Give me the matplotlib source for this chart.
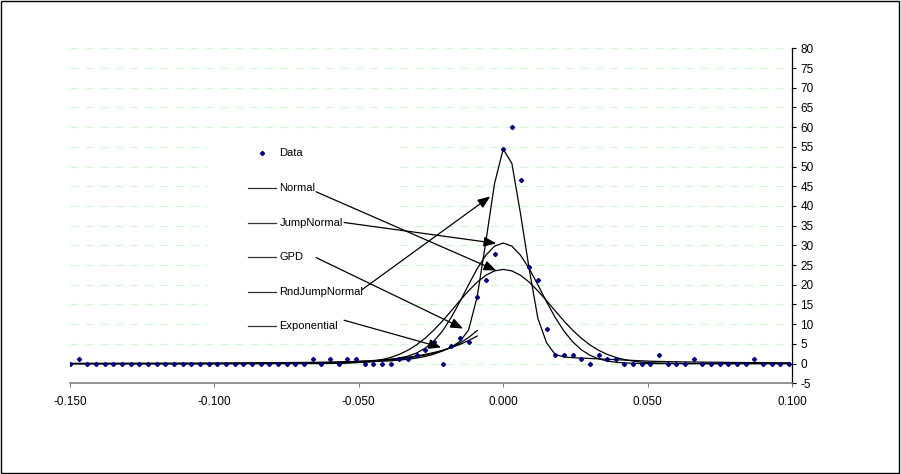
import numpy as np
import matplotlib
matplotlib.use("Agg")
import matplotlib.pyplot as plt
from matplotlib.patches import Rectangle
from matplotlib.lines import Line2D

plt.rcParams["font.family"] = ["Liberation Sans", "DejaVu Sans"]
plt.rcParams["lines.scale_dashes"] = False

# ──────────────────────────────────────────────────────────────────
# data (bin centres every 0.003 from -0.150)
# ──────────────────────────────────────────────────────────────────
bins = np.round(-0.150 + 0.003 * np.arange(84), 3)

data = [
    0, 1.1, 0, 0, 0, 0, 0, 0, 0, 0,
    0, 0, 0, 0, 0, 0, 0, 0, 0, 0,
    0, 0, 0, 0, 0, 0, 0, 0, 1.1, 0,
    1.1, 0, 1.1, 1.1, 0, 0, 0, 0, 1.1, 1.1,
    2.3, 3.4, 5.6, 0, 4.4, 6.6, 5.6, 16.8, 21.2, 27.7,
    54.4, 60.0, 46.7, 24.4, 21.2, 8.9, 2.3, 2.3, 2.3, 1.1,
    0, 2.3, 1.1, 1.1, 0, 0, 0, 0, 2.3, 0,
    0, 0, 1.1, 0, 0, 0, 0, 0, 0, 1.1,
    0, 0, 0, 0,
]

normal = [
    0, 0, 0, 0, 0, 0, 0, 0, 0, 0,
    0, 0, 0, 0, 0, 0, 0, 0, 0, 0,
    0, 0, 0, 0, 0, 0, 0, 0, 0.01, 0.02,
    0.04, 0.07, 0.13, 0.23, 0.38, 0.63, 1.01, 1.56, 2.34, 3.39,
    4.76, 6.47, 8.51, 10.84, 13.37, 15.97, 18.46, 20.67, 22.41, 23.52,
    23.9, 23.52, 22.41, 20.67, 18.46, 15.97, 13.37, 10.84, 8.51, 6.47,
    4.76, 3.39, 2.34, 1.56, 1.01, 0.63, 0.38, 0.23, 0.13, 0.07,
    0.04, 0.02, 0.01, 0, 0, 0, 0, 0, 0, 0,
    0, 0, 0, 0,
]

jump_normal = [
    0, 0, 0, 0, 0, 0, 0, 0, 0, 0,
    0, 0, 0, 0, 0, 0, 0, 0, 0, 0,
    0.01, 0.01, 0.02, 0.02, 0.03, 0.04, 0.05, 0.06, 0.08, 0.10,
    0.13, 0.17, 0.22, 0.3, 0.4, 0.55, 0.75, 1.0, 1.4, 1.9,
    2.7, 3.9, 5.7, 8.3, 11.7, 15.7, 20.0, 24.1, 27.5, 29.8,
    30.6, 29.8, 27.5, 24.1, 20.0, 15.7, 11.7, 8.3, 5.57, 3.54,
    2.13, 1.22, 0.66, 0.34, 0.17, 0.08, 0.03, 0.01, 0, 0,
    0, 0, 0, 0, 0, 0, 0, 0, 0, 0,
    0, 0, 0, 0,
]

rnd_jump_normal = [
    0, 0, 0, 0, 0, 0, 0, 0, 0, 0,
    0.01, 0.01, 0.01, 0.02, 0.02, 0.03, 0.03, 0.04, 0.05, 0.06,
    0.07, 0.08, 0.09, 0.1, 0.11, 0.12, 0.14, 0.16, 0.18, 0.2,
    0.22, 0.25, 0.3, 0.35, 0.4, 0.5, 0.6, 0.7, 0.9, 1.1,
    1.4, 1.8, 2.4, 3.2, 4.2, 5.6, 8.5, 17.0, 31.0, 45.7,
    54.4, 50.8, 38.0, 24.0, 11.5, 5.3, 2.3, 1.7, 1.5, 1.4,
    1.3, 1.2, 1.1, 1.0, 0.9, 0.8, 0.7, 0.6, 0.55, 0.5,
    0.45, 0.42, 0.4, 0.37, 0.35, 0.33, 0.3, 0.28, 0.26, 0.25,
    0.24, 0.22, 0.21, 0.2,
]

# left-tail fits, drawn up to -0.009
gpd = [
    0.05, 0.05, 0.05, 0.06, 0.06, 0.06, 0.07, 0.07, 0.07, 0.08,
    0.08, 0.09, 0.09, 0.1, 0.1, 0.11, 0.12, 0.13, 0.14, 0.15,
    0.16, 0.18, 0.2, 0.22, 0.24, 0.26, 0.28, 0.3, 0.32, 0.34,
    0.35, 0.4, 0.46, 0.53, 0.62, 0.72, 0.85, 1.0, 1.2, 1.45,
    1.75, 2.15, 2.65, 3.3, 4.1, 5.2, 6.6, 8.4,
]

exponential = [
    0, 0, 0, 0, 0, 0, 0, 0, 0, 0,
    0, 0, 0, 0, 0, 0, 0, 0.01, 0.01, 0.02,
    0.03, 0.04, 0.05, 0.07, 0.1, 0.13, 0.15, 0.18, 0.22, 0.26,
    0.31, 0.38, 0.45, 0.54, 0.65, 0.78, 0.94, 1.13, 1.36, 1.63,
    1.95, 2.34, 2.81, 3.38, 4.05, 4.86, 5.83, 7.0,
]

legend_labels = ["Data", "Normal", "JumpNormal", "GPD", "RndJumpNormal", "Exponential"]

# arrows: label -> (text end, arrow tip) in data units
arrows = {
    "Normal":        ((-0.0648, 43.6), (-0.0024, 23.6)),
    "JumpNormal":    ((-0.0551, 35.8), (-0.0024, 30.5)),
    "GPD":           ((-0.0648, 26.9), (-0.0139, 8.9)),
    "RndJumpNormal": ((-0.0488, 18.8), (-0.0045, 42.4)),
    "Exponential":   ((-0.0551, 11.0), (-0.0215, 4.1)),
}

xticks = [-0.150, -0.100, -0.050, 0.000, 0.050, 0.100]
yticks = list(range(-5, 81, 5))

# ──────────────────────────────────────────────────────────────────
# plot
# ──────────────────────────────────────────────────────────────────
fig = plt.figure(figsize=(9.01, 4.74), dpi=100)
ax = fig.add_axes([70 / 901, 1 - 383.3 / 474, 722 / 901, 335 / 474])

ax.set_xlim(-0.150, 0.100)
ax.set_ylim(-5, 80)

for y in yticks[1:]:
    ax.axhline(y, color="#ccfacc", lw=0.8, linestyle=(0, (5.8, 5.0)), zorder=0.5)

# white legend box hiding the grid
ax.add_patch(Rectangle((0.1911, 0.1382), 0.2632, 0.603, transform=ax.transAxes,
                       facecolor="white", edgecolor="none", zorder=1))

for series in [normal, jump_normal, rnd_jump_normal]:
    ax.plot(bins, series, color="black", lw=0.9, zorder=3)
ax.plot(bins[:len(gpd)], gpd, color="black", lw=0.9, zorder=3)
ax.plot(bins[:len(exponential)], exponential, color="black", lw=0.9, zorder=3)

ax.plot(bins, data, linestyle="none", marker="D", markersize=2.1,
        color="#000080", zorder=4)

for name, (start, tip) in arrows.items():
    ax.annotate("", xy=tip, xytext=start,
                arrowprops=dict(arrowstyle="-|>,head_length=0.75,head_width=0.3",
                                color="black", lw=0.9, shrinkA=0, shrinkB=0),
                zorder=5)

# legend items
leg_y = [0.6866, 0.5821, 0.4794, 0.3779, 0.2734, 0.1710]
for label, ly in zip(legend_labels, leg_y):
    if label == "Data":
        ax.plot([0.2655], [ly], marker="D", markersize=2.1, color="#000080",
                transform=ax.transAxes, zorder=4)
    else:
        ax.add_line(Line2D([0.2465, 0.2853], [ly, ly], color="#333333", lw=0.9,
                           transform=ax.transAxes, zorder=4))
    ax.text(0.2899, ly, label, transform=ax.transAxes, fontsize=8,
            va="center", ha="left", zorder=4)

# axes styling
ax.spines["left"].set_visible(False)
ax.spines["top"].set_visible(False)
ax.spines["right"].set_color("black")
ax.spines["right"].set_linewidth(0.9)
ax.spines["bottom"].set_color("#808080")
ax.spines["bottom"].set_linewidth(1.2)

ax.yaxis.tick_right()
ax.set_yticks(yticks)
ax.set_yticklabels([str(v) for v in yticks])
ax.set_xticks(xticks)
ax.set_xticklabels([f"{v:.3f}" for v in xticks])
ax.tick_params(axis="y", direction="out", length=3, width=0.8, pad=3, labelsize=8.5)
ax.tick_params(axis="x", direction="out", length=3, width=0.8, pad=6, labelsize=8.5,
               color="#808080")

# outer chart border
fig.patches.append(Rectangle((0.001, 0.002), 0.997, 0.995, transform=fig.transFigure,
                             fill=False, edgecolor="black", lw=1.0))

fig.savefig("out.png", dpi=100)
